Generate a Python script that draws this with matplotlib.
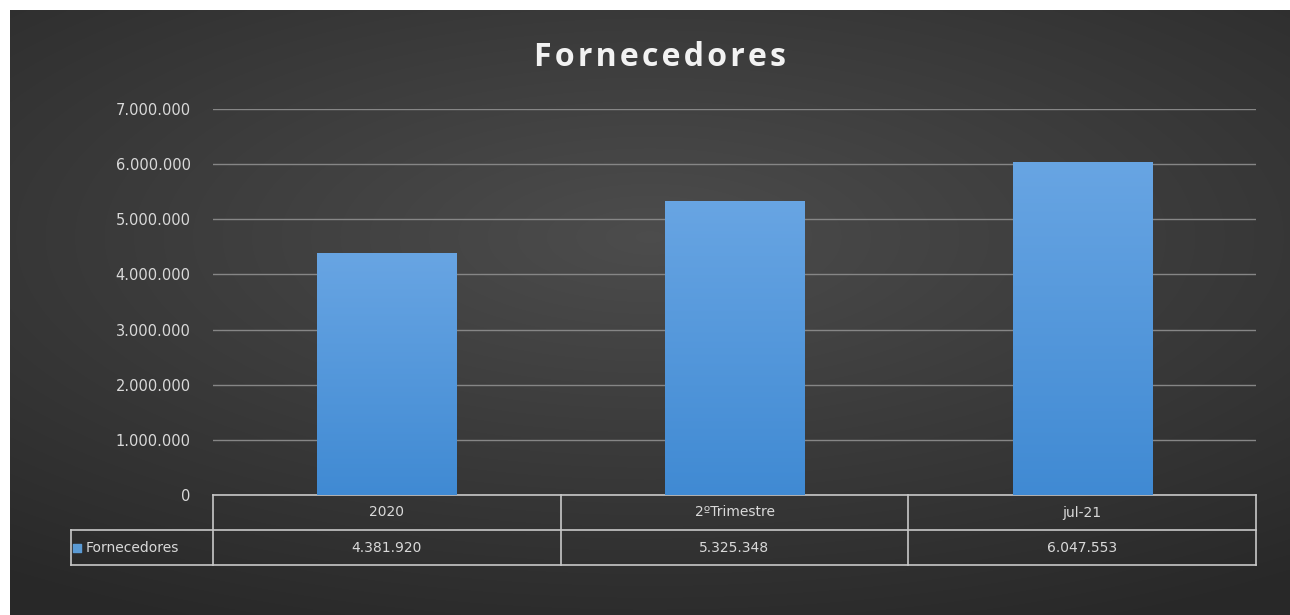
import numpy as np
import matplotlib
matplotlib.use("Agg")
import matplotlib.pyplot as plt
from matplotlib.ticker import FuncFormatter
import matplotlib.transforms as mtransforms

categories = ["2020", "2\u00baTrimestre", "jul-21"]
values = [4381920, 5325348, 6047553]
series_name = "Fornecedores"
y_ticks = [0, 1000000, 2000000, 3000000, 4000000, 5000000, 6000000, 7000000]


def fmt_br(v):
    return f"{int(v):,}".replace(",", ".")


W, H = 1290, 615
fig = plt.figure(figsize=(W / 100, H / 100), dpi=100)
fig.patch.set_facecolor("white")

# dark background with a soft radial gradient, lighter towards the upper middle
bg = fig.add_axes([10 / W, 0, 1 - 10 / W, 1 - 10 / H])
bg.set_axis_off()
yy, xx = np.mgrid[-1:1:300j, -1:1:600j]
r = np.sqrt((xx * 0.85) ** 2 + ((yy - 0.25) * 1.0) ** 2)
shade = 0.30 - 0.14 * np.clip(r, 0, 1.4) / 1.4
bg.imshow(np.dstack([shade, shade, shade]), extent=[0, 1, 0, 1],
          aspect="auto", interpolation="bicubic", origin="lower")
bg.set_xlim(0, 1)
bg.set_ylim(0, 1)

ax_left, ax_right = 213 / W, 1256 / W
ax_bottom, ax_top = (H - 495) / H, (H - 109) / H
ax = fig.add_axes([ax_left, ax_bottom, ax_right - ax_left, ax_top - ax_bottom])
ax.patch.set_alpha(0)

x = np.arange(len(categories))
bars = ax.bar(x, values, width=0.4, color="#5b9bd5", edgecolor="#2a4a6e",
              linewidth=0.6, zorder=3)

# vertical gradient inside each bar
grad = np.linspace(0, 1, 256).reshape(-1, 1)
top_c = np.array([0x68, 0xa5, 0xe3]) / 255
bot_c = np.array([0x40, 0x8a, 0xd3]) / 255
grad_img = top_c * (1 - grad[..., None]) + bot_c * grad[..., None]
for b in bars:
    im = ax.imshow(grad_img, extent=[b.get_x(), b.get_x() + b.get_width(), 0, b.get_height()],
                   aspect="auto", zorder=3.5)
    im.set_clip_path(b)

ax.set_xlim(-0.5, len(categories) - 0.5)
ax.set_ylim(0, 7000000)
ax.set_yticks(y_ticks)
ax.yaxis.set_major_formatter(FuncFormatter(lambda v, p: fmt_br(v)))
ax.set_xticks([])
ax.tick_params(axis="y", length=0, pad=16, labelsize=10.5, labelcolor="#d9d9d9")
for s in ax.spines.values():
    s.set_visible(False)
ax.grid(axis="y", color="#868686", linewidth=1.0, zorder=1)
ax.set_axisbelow(True)

# data table under the plot
row_h = 35 / (495 - 109)
line_c = "#c8c8c8"
tr = mtransforms.blended_transform_factory(ax.transData, ax.transAxes)
leg_x = (71 - 213) / (1256 - 213)
kw = dict(color=line_c, linewidth=1.2, clip_on=False)
ax.plot([-0.5, len(categories) - 0.5], [0, 0], transform=tr, **kw)
ax.plot([leg_x, 1], [-row_h, -row_h], transform=ax.transAxes, **kw)
ax.plot([leg_x, 1], [-2 * row_h, -2 * row_h], transform=ax.transAxes, **kw)
ax.plot([leg_x, leg_x], [-row_h, -2 * row_h], transform=ax.transAxes, **kw)
for i in range(len(categories) + 1):
    ax.plot([i - 0.5, i - 0.5], [0, -2 * row_h], transform=tr, **kw)

for i, (c, v) in enumerate(zip(categories, values)):
    ax.text(i, -0.5 * row_h, c, transform=tr, ha="center", va="center",
            fontsize=10, color="#d9d9d9")
    ax.text(i, -1.5 * row_h, fmt_br(v), transform=tr, ha="center", va="center",
            fontsize=10, color="#d9d9d9")

ax.scatter([leg_x + 0.006], [-1.5 * row_h], marker="s", s=28, color="#5b9bd5",
           transform=ax.transAxes, clip_on=False, zorder=5)
ax.text(leg_x + 0.014, -1.5 * row_h, series_name, transform=ax.transAxes,
        ha="left", va="center", fontsize=10, color="#d9d9d9")

# title with slightly wide letter spacing (hair spaces between letters)
fig.text(660 / W, 1 - 58 / H, "\u200a".join(series_name), ha="center", va="center",
         fontsize=23, fontweight="bold", color="#f2f2f2",
         family=["Open Sans", "DejaVu Sans"])

fig.savefig("out.png", dpi=100, facecolor=fig.get_facecolor())
